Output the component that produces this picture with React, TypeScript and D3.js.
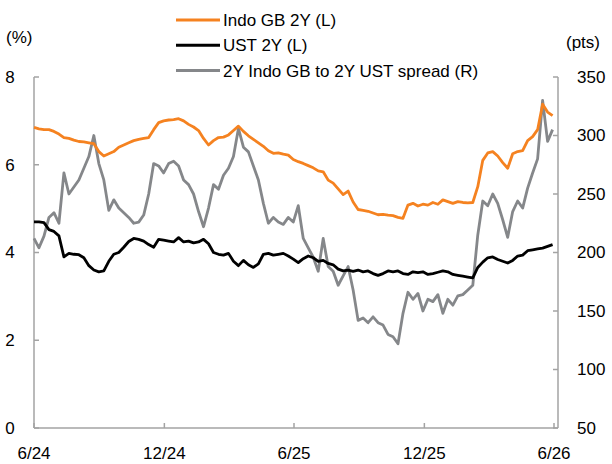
import * as d3 from "d3";

// weekly observations, first one at the start of June 2024
const firstWeek = new Date(2024, 5, 1);

const indoGb2y = [
  6.85, 6.82, 6.8, 6.8, 6.76, 6.7, 6.62, 6.6, 6.56, 6.53, 6.52, 6.5, 6.48, 6.3, 6.2,
  6.25, 6.3, 6.4, 6.45, 6.5, 6.55, 6.58, 6.6, 6.62, 6.8, 6.96, 7.0, 7.02, 7.03, 7.05,
  7.0, 6.92, 6.86, 6.78, 6.6, 6.45, 6.55, 6.62, 6.63, 6.68, 6.78, 6.88, 6.76, 6.66, 6.58,
  6.5, 6.42, 6.32, 6.26, 6.27, 6.24, 6.22, 6.12, 6.07, 6.03, 5.98, 5.93, 5.86, 5.84, 5.65,
  5.58, 5.45, 5.32, 5.4, 5.15, 4.98, 4.96, 4.94, 4.9, 4.86, 4.87, 4.85, 4.84, 4.8, 4.78,
  5.08, 5.12, 5.06, 5.1, 5.08, 5.14, 5.1, 5.2, 5.16, 5.12, 5.16, 5.14, 5.13, 5.14, 5.5,
  6.1, 6.27, 6.3, 6.2, 6.05, 5.92, 6.25, 6.3, 6.32, 6.55, 6.64, 6.8, 7.38, 7.2, 7.12,
];

const ust2y = [
  4.7, 4.7, 4.68, 4.52, 4.48, 4.38, 3.9, 3.98, 3.96, 3.95, 3.88, 3.7, 3.6, 3.56, 3.58,
  3.8, 3.96, 4.0, 4.12, 4.25, 4.32, 4.3, 4.26, 4.18, 4.12, 4.3, 4.28, 4.26, 4.24, 4.34,
  4.24, 4.26, 4.22, 4.24, 4.3, 4.2, 4.0, 3.96, 3.94, 3.98, 3.8, 3.7, 3.82, 3.72, 3.66,
  3.74, 3.96, 3.98, 3.94, 3.96, 3.98, 3.92, 3.85, 3.77, 3.86, 3.92, 3.88, 3.8, 3.82, 3.75,
  3.72, 3.62, 3.58, 3.6, 3.57, 3.6, 3.56, 3.58, 3.52, 3.48, 3.52, 3.58, 3.56, 3.58, 3.52,
  3.5, 3.56, 3.54, 3.56, 3.5, 3.52, 3.55, 3.58, 3.56, 3.5, 3.48, 3.46, 3.44, 3.42, 3.66,
  3.78, 3.88, 3.9, 3.84, 3.8, 3.76, 3.82, 3.92, 3.94, 4.04, 4.06, 4.08, 4.1, 4.14, 4.18,
];

const spread = [
  212, 204, 214, 230, 234, 225, 268, 250, 256, 262, 272, 282, 300, 276, 262,
  236, 245, 238, 234, 230, 225, 226, 232, 250, 276, 274, 268, 276, 278, 274,
  262, 258, 250, 235, 222, 238, 258, 254, 266, 272, 282, 306, 290, 286, 274,
  262, 242, 225, 230, 226, 224, 230, 226, 240, 212, 204, 196, 184, 212, 188,
  184, 172, 180, 188, 168, 142, 144, 140, 145, 140, 138, 130, 128, 122, 148,
  166, 160, 165, 150, 160, 158, 164, 148, 160, 155, 163, 164, 168, 172, 215,
  244, 240, 250, 242, 228, 213, 235, 244, 238, 255, 268, 280, 330, 295, 305,
];

const leftTicks = [0, 2, 4, 6, 8];
const rightTicks = [50, 100, 150, 200, 250, 300, 350];
const xTickDates = [
  new Date(2024, 5, 1),
  new Date(2024, 11, 1),
  new Date(2025, 5, 1),
  new Date(2025, 11, 1),
  new Date(2026, 5, 1),
];
const xTickLabels = ["6/24", "12/24", "6/25", "12/25", "6/26"];

const legendItems = [
  { label: "Indo GB 2Y (L)", color: "#F58220" },
  { label: "UST 2Y (L)", color: "#000000" },
  { label: "2Y Indo GB to 2Y UST spread (R)", color: "#85878A" },
];

const FONT = "'Liberation Sans', Arial, sans-serif";
const AXIS = "#A3A3A3";

export default function App() {
  const left = 34;
  const right = 558;
  const top = 77;
  const bottom = 428;

  const dates = indoGb2y.map((_d, i) => d3.timeDay.offset(firstWeek, i * 7));

  const x = d3
    .scaleTime()
    .domain([new Date(2024, 5, 1), new Date(2026, 5, 1)])
    .range([left, 554]);
  const yL = d3.scaleLinear().domain([0, 8]).range([bottom, top]);
  const yR = d3.scaleLinear().domain([50, 350]).range([bottom, top]);

  const lineL = d3
    .line<number>()
    .x((_d, i) => x(dates[i]))
    .y((d) => yL(d));
  const lineR = d3
    .line<number>()
    .x((_d, i) => x(dates[i]))
    .y((d) => yR(d));

  return (
    <svg
      width={612}
      height={464}
      style={{ position: "absolute", left: 0, top: 0, background: "#fff" }}
      fontFamily={FONT}
    >
      {/* axes */}
      <line x1={left} x2={left} y1={top} y2={bottom} stroke={AXIS} strokeWidth={1.5} />
      <line x1={right} x2={right} y1={top} y2={bottom} stroke={AXIS} strokeWidth={1.5} />
      <line x1={left} x2={right} y1={bottom} y2={bottom} stroke={AXIS} strokeWidth={1.5} />

      {leftTicks.map((t) => (
        <g key={"l" + t}>
          <line x1={left} x2={left + 5} y1={yL(t)} y2={yL(t)} stroke={AXIS} strokeWidth={1.5} />
          <text x={10} y={yL(t)} dy="0.35em" textAnchor="middle" fontSize={17} fill="#000">
            {t}
          </text>
        </g>
      ))}
      {rightTicks.map((t) => (
        <g key={"r" + t}>
          <line x1={right - 5} x2={right} y1={yR(t)} y2={yR(t)} stroke={AXIS} strokeWidth={1.5} />
          <text x={577} y={yR(t)} dy="0.35em" fontSize={17} fill="#000">
            {t}
          </text>
        </g>
      ))}
      {xTickDates.map((d, i) => (
        <g key={"x" + i}>
          <line x1={x(d)} x2={x(d)} y1={bottom - 5} y2={bottom} stroke={AXIS} strokeWidth={1.5} />
          <text x={x(d)} y={459} textAnchor="middle" fontSize={17} fill="#000">
            {xTickLabels[i]}
          </text>
        </g>
      ))}

      <text x={6} y={43} fontSize={17} fill="#000">(%)</text>
      <text x={566} y={48} fontSize={17} fill="#000">(pts)</text>

      {/* series */}
      <path d={lineR(spread) ?? ""} fill="none" stroke="#85878A" strokeWidth={2.8} strokeLinejoin="round" />
      <path d={lineL(ust2y) ?? ""} fill="none" stroke="#000" strokeWidth={2.8} strokeLinejoin="round" />
      <path d={lineL(indoGb2y) ?? ""} fill="none" stroke="#F58220" strokeWidth={2.8} strokeLinejoin="round" />

      {/* legend */}
      {legendItems.map((item, i) => {
        const ly = 20 + i * 25.3;
        return (
          <g key={item.label}>
            <line x1={176} x2={220} y1={ly} y2={ly} stroke={item.color} strokeWidth={3} />
            <text x={223} y={ly} dy="0.35em" fontSize={17} fill="#000">
              {item.label}
            </text>
          </g>
        );
      })}
    </svg>
  );
}
